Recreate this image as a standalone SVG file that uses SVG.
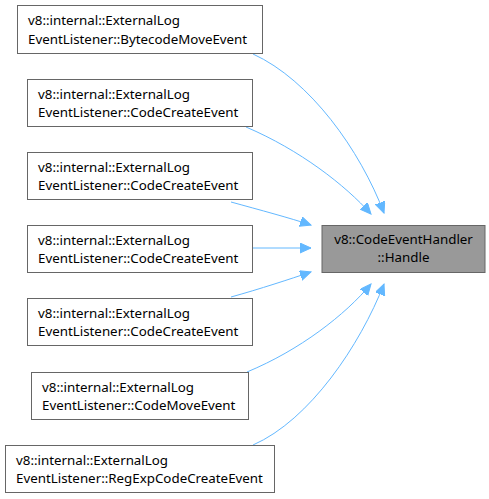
<svg xmlns="http://www.w3.org/2000/svg" width="489" height="499" viewBox="0 0 489 499">
<style>
.n rect{fill:#fff;stroke:#666;stroke-width:1}
.t rect{fill:#999;stroke:#666;stroke-width:1}
text{font-family:"Noto Sans","DejaVu Sans",sans-serif;font-size:13.33px;fill:#000}
.e path{fill:none;stroke:#63b8ff;stroke-width:1}
</style>
<defs>
<marker id="a" markerUnits="userSpaceOnUse" markerWidth="12" markerHeight="12" refX="11" refY="5" orient="auto">
<path d="M0,0 L11,5 L0,10 z" fill="#63b8ff" stroke="#63b8ff"/>
</marker>
</defs>
<g class="e" id="edges">
<path d="M253,54 C310,80 360,150 384,213" marker-end="url(#a)"/>
<path d="M246,127 C300,150 345,185 371,214" marker-end="url(#a)"/>
<path d="M231,202 C260,210 290,218 311,225" marker-end="url(#a)"/>
<path d="M252,248 L311,248" marker-end="url(#a)"/>
<path d="M231,297 C260,289 290,279 311,272" marker-end="url(#a)"/>
<path d="M247,372 C300,350 345,315 371,284" marker-end="url(#a)"/>
<path d="M253,445 C310,420 360,345 384,284" marker-end="url(#a)"/>
</g>
<g class="t" id="target"><rect x="322" y="225.5" width="163" height="47"/><text x="403.5" y="244" text-anchor="middle">v8::CodeEventHandler</text><text x="403.5" y="262" text-anchor="middle">::Handle</text></g>
<g class="n" id="n1"><rect x="17.5" y="5.5" width="245" height="48"/><text x="28" y="25">v8::internal::ExternalLog</text><text x="28" y="44">EventListener::BytecodeMoveEvent</text></g>
<g class="n" id="n2"><rect x="27.5" y="79.5" width="225" height="47"/><text x="38" y="99">v8::internal::ExternalLog</text><text x="38" y="117">EventListener::CodeCreateEvent</text></g>
<g class="n" id="n3"><rect x="27.5" y="152.5" width="225" height="47"/><text x="38" y="172">v8::internal::ExternalLog</text><text x="38" y="190">EventListener::CodeCreateEvent</text></g>
<g class="n" id="n4"><rect x="27.5" y="225.5" width="225" height="47"/><text x="38" y="245">v8::internal::ExternalLog</text><text x="38" y="263">EventListener::CodeCreateEvent</text></g>
<g class="n" id="n5"><rect x="27.5" y="298.5" width="225" height="47"/><text x="38" y="318">v8::internal::ExternalLog</text><text x="38" y="336">EventListener::CodeCreateEvent</text></g>
<g class="n" id="n6"><rect x="31.5" y="372.5" width="217" height="47"/><text x="42" y="392">v8::internal::ExternalLog</text><text x="42" y="410">EventListener::CodeMoveEvent</text></g>
<g class="n" id="n7"><rect x="5.5" y="445.5" width="269" height="47"/><text x="16" y="465">v8::internal::ExternalLog</text><text x="16" y="483">EventListener::RegExpCodeCreateEvent</text></g>
</svg>
